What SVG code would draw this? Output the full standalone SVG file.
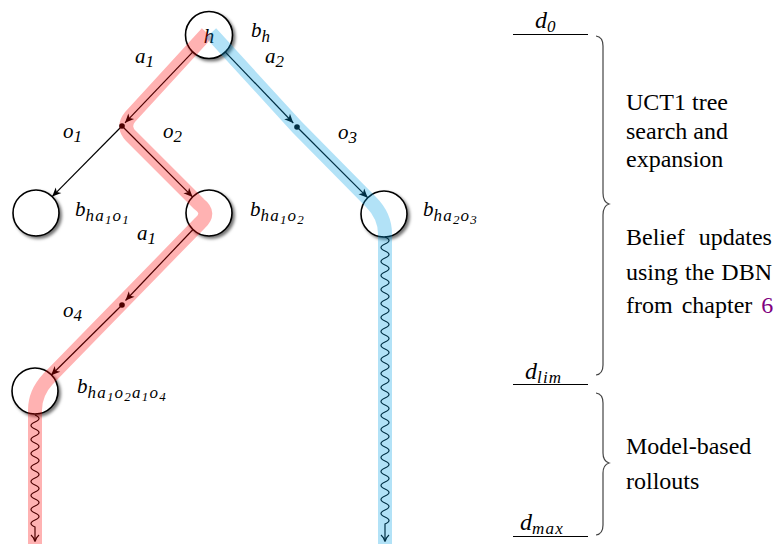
<svg xmlns="http://www.w3.org/2000/svg" width="778" height="544" viewBox="0 0 778 544">
<style>
.m{font-family:"Liberation Serif","Times New Roman",serif;font-style:italic;font-size:21px;fill:#000}
.d{font-size:24px}
.s{font-size:17px;letter-spacing:1.2px}
.ss{font-size:13px;letter-spacing:1.2px}
.t{font-family:"Liberation Serif","Times New Roman",serif;font-size:24px;fill:#000}
.node circle{fill:#fff;stroke:#000;stroke-width:1.6;filter:url(#sh)}
.e{stroke:#000;stroke-width:1.2;fill:none}
.arr{marker-end:url(#stealth)}
.dot{fill:#000}
.hl{fill:none;stroke-width:14;stroke-linejoin:round;opacity:0.3}
.red{stroke:#ff0000}
.blue{stroke:#00a0e3}
.brace{fill:none;stroke:#444;stroke-width:1.2}
.rule{stroke:#000;stroke-width:1}
</style>
<defs>
<filter id="sh" x="-30%" y="-30%" width="170%" height="170%">
<feDropShadow dx="2.2" dy="2.2" stdDeviation="1.4" flood-color="#000" flood-opacity="0.55"/>
</filter>
<marker id="stealth" viewBox="-10 -5 12 10" markerWidth="12" markerHeight="10" refX="0" refY="0" orient="auto" markerUnits="userSpaceOnUse">
<path d="M-9,-4 L0,0 L-9,4 L-6.5,0 z" fill="#000"/>
</marker>
</defs>
<rect width="778" height="544" fill="#fff"/>

<g id="n-h" class="node">
<circle cx="209" cy="35" r="23.5"/>
<text class="m" x="209" y="43" text-anchor="middle">h</text>
<text class="m" x="251" y="37">b<tspan class="s" dy="5">h</tspan></text>
</g>
<g id="n-ha1o1" class="node">
<circle cx="36" cy="213" r="23"/>
<text class="m" x="75" y="216">b<tspan class="s" dy="5">ha</tspan><tspan class="ss" dy="3">1</tspan><tspan class="s" dy="-3">o</tspan><tspan class="ss" dy="3">1</tspan></text>
</g>
<g id="n-ha1o2" class="node">
<circle cx="209" cy="213" r="23"/>
<text class="m" x="250" y="216">b<tspan class="s" dy="5">ha</tspan><tspan class="ss" dy="3">1</tspan><tspan class="s" dy="-3">o</tspan><tspan class="ss" dy="3">2</tspan></text>
</g>
<g id="n-ha2o3" class="node">
<circle cx="384" cy="214" r="23"/>
<text class="m" x="423" y="216">b<tspan class="s" dy="5">ha</tspan><tspan class="ss" dy="3">2</tspan><tspan class="s" dy="-3">o</tspan><tspan class="ss" dy="3">3</tspan></text>
</g>
<g id="n-ha1o2a1o4" class="node">
<circle cx="35" cy="391" r="23"/>
<text class="m" x="77" y="393">b<tspan class="s" dy="5">ha</tspan><tspan class="ss" dy="3">1</tspan><tspan class="s" dy="-3">o</tspan><tspan class="ss" dy="3">2</tspan><tspan class="s" dy="-3">a</tspan><tspan class="ss" dy="3">1</tspan><tspan class="s" dy="-3">o</tspan><tspan class="ss" dy="3">4</tspan></text>
</g>

<g id="connectors">
<line class="e arr" x1="193.1" y1="51.6" x2="125" y2="122.8"/>
<line class="e arr" x1="224.9" y1="51.6" x2="293.3" y2="123"/>
<line class="e arr" x1="122" y1="126" x2="52.2" y2="196.6"/>
<line class="e arr" x1="122" y1="126" x2="192.6" y2="196.9"/>
<line class="e arr" x1="297" y1="127" x2="367.7" y2="197.7"/>
<line class="e arr" x1="193" y1="229.5" x2="125.5" y2="300.5"/>
<line class="e arr" x1="122" y1="305" x2="51.1" y2="375.2"/>
<circle class="dot" cx="122" cy="126" r="2.8"/>
<circle class="dot" cx="297" cy="127" r="2.8"/>
<circle class="dot" cx="122" cy="305" r="2.8"/>
<path class="e" d="M35,415 q8,3.5 0,7 t0,7 t0,7 t0,7 t0,7 t0,7 t0,7 t0,7 t0,7 t0,7 t0,7 t0,7 t0,7 t0,7 t0,7 t0,7 L35,541"/>
<path class="e" d="M31,535 Q34,537.5 35,541.5 Q36,537.5 39,535"/>
<path class="e" d="M385,237 q8,3.5 0,7 t0,7 t0,7 t0,7 t0,7 t0,7 t0,7 t0,7 t0,7 t0,7 t0,7 t0,7 t0,7 t0,7 t0,7 t0,7 t0,7 t0,7 t0,7 t0,7 t0,7 t0,7 t0,7 t0,7 t0,7 t0,7 t0,7 t0,7 t0,7 t0,7 t0,7 t0,7 t0,7 t0,7 t0,7 t0,7 t0,7 t0,7 t0,7 t0,7 t0,7 L385,541"/>
<path class="e" d="M381,535 Q384,537.5 385,541.5 Q386,537.5 389,535"/>
</g>

<g id="edge-labels">
<text class="m" x="135" y="63">a<tspan class="s" dy="4">1</tspan></text>
<text class="m" x="265" y="63">a<tspan class="s" dy="4">2</tspan></text>
<text class="m" x="63" y="138">o<tspan class="s" dy="4">1</tspan></text>
<text class="m" x="163" y="138">o<tspan class="s" dy="4">2</tspan></text>
<text class="m" x="338" y="139">o<tspan class="s" dy="4">3</tspan></text>
<text class="m" x="137" y="240">a<tspan class="s" dy="4">1</tspan></text>
<text class="m" x="63" y="317">o<tspan class="s" dy="4">4</tspan></text>
</g>

<g id="highlights">
<path class="hl red" d="M207,33 L130,117 Q122,127 131,136 L199,204 Q211,213 200,223 L48,379 Q35,393 35,410 L35,544"/>
<path class="hl blue" d="M211,33 L297,127 L371,202 Q385,216 385,234 L385,544"/>
</g>

<g id="depth-scale">
<line class="rule" x1="513" y1="34.5" x2="588" y2="34.5"/>
<text class="m d" x="535" y="28">d<tspan class="s" dy="4">0</tspan></text>
<line class="rule" x1="513" y1="384.5" x2="588" y2="384.5"/>
<text class="m d" x="525" y="379">d<tspan class="s" dy="4">lim</tspan></text>
<line class="rule" x1="513" y1="536.5" x2="588" y2="536.5"/>
<text class="m d" x="520" y="530">d<tspan class="s" dy="4">max</tspan></text>
<path class="brace" d="M596,36 Q603,37 603,46 L603,193 Q603,202 609,204 Q603,206 603,215 L603,365 Q603,374 596,375"/>
<path class="brace" d="M596,393 Q603,394 603,403 L603,453 Q603,461 609,463 Q603,465 603,473 L603,525 Q603,534 596,535"/>
<text class="t" x="626" y="110">UCT1 tree</text>
<text class="t" x="626" y="139">search and</text>
<text class="t" x="626" y="167">expansion</text>
<text class="t" x="626" y="245" word-spacing="8">Belief updates</text>
<text class="t" x="626" y="280" word-spacing="1">using the DBN</text>
<text class="t" x="626" y="313" word-spacing="3">from chapter <tspan fill="#800080">6</tspan></text>
<text class="t" x="626" y="454">Model-based</text>
<text class="t" x="626" y="489">rollouts</text>
</g>
</svg>
